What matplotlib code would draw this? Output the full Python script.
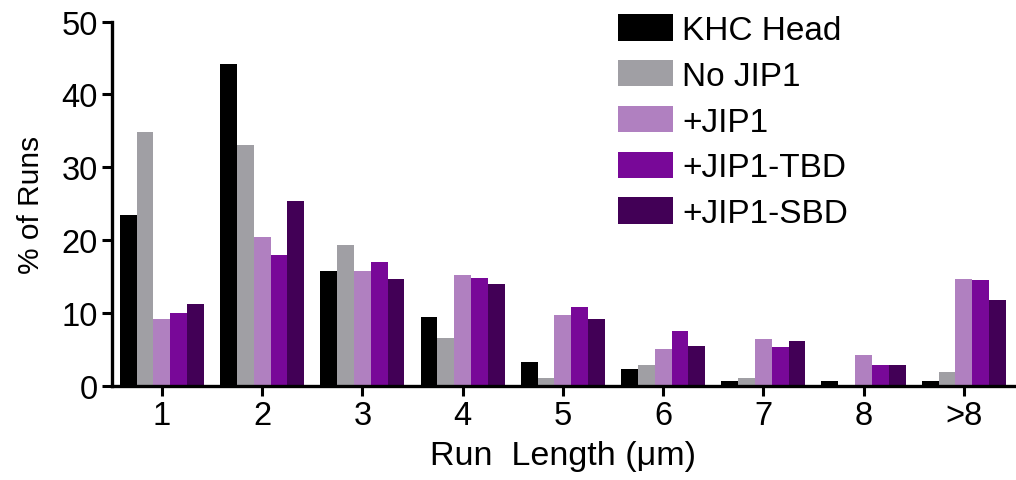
import matplotlib
matplotlib.use("Agg")
import matplotlib.pyplot as plt
import numpy as np

# run length bins
categories = ['1', '2', '3', '4', '5', '6', '7', '8', '>8']

# % of runs per bin for each construct
khc_head = [23.5, 44.2, 15.8, 9.5, 3.2, 2.3, 0.7, 0.6, 0.6]
no_jip1 = [34.9, 33.1, 19.3, 6.5, 1.0, 2.85, 1.0, 0.0, 1.9]
plus_jip1 = [9.2, 20.4, 15.8, 15.2, 9.7, 5.1, 6.4, 4.2, 14.6]
plus_tbd = [10.0, 17.95, 17.0, 14.8, 10.8, 7.5, 5.3, 2.85, 14.55]
plus_sbd = [11.2, 25.3, 14.7, 13.9, 9.1, 5.5, 6.15, 2.9, 11.8]

series_names = ['KHC Head', 'No JIP1', '+JIP1', '+JIP1-TBD', '+JIP1-SBD']
series_values = [khc_head, no_jip1, plus_jip1, plus_tbd, plus_sbd]
series_colors = ['#000000', '#a09fa4', '#b080c0', '#780898', '#420056']

plt.rcParams['font.family'] = ['Liberation Sans', 'DejaVu Sans']

fig = plt.figure(figsize=(10.16, 4.81), dpi=100)
ax = fig.add_axes([0.110, 0.196, 0.888, 0.757])

x = np.arange(len(categories))
width = 0.168
for i in range(len(series_values)):
    offset = (i - 2) * width
    ax.bar(x + offset, series_values[i], width, color=series_colors[i],
           label=series_names[i], linewidth=0)

ax.set_xlim(-0.5, 8.5)
ax.set_ylim(0, 50)
ax.set_yticks([0, 10, 20, 30, 40, 50])
ax.set_xticks(x)
ax.set_xticklabels(categories)

ax.spines['top'].set_visible(False)
ax.spines['right'].set_visible(False)
ax.spines['left'].set_linewidth(2.4)
ax.spines['bottom'].set_linewidth(2.4)
ax.tick_params(axis='both', direction='out', length=7, width=2.2,
               labelsize=23.5, pad=3)

ax.set_ylabel('% of Runs', fontsize=21.5, labelpad=12)
ax.set_xlabel('Run  Length (\u03bcm)', fontsize=24.5, labelpad=7)

ax.legend(loc='upper left', bbox_to_anchor=(618 / 1016, 1 - 15 / 481),
          bbox_transform=fig.transFigure, frameon=False, fontsize=24,
          handlelength=1.65, handleheight=0.85, handletextpad=0.28,
          labelspacing=0.42, borderpad=0, borderaxespad=0)

fig.savefig('out.png', dpi=100)
